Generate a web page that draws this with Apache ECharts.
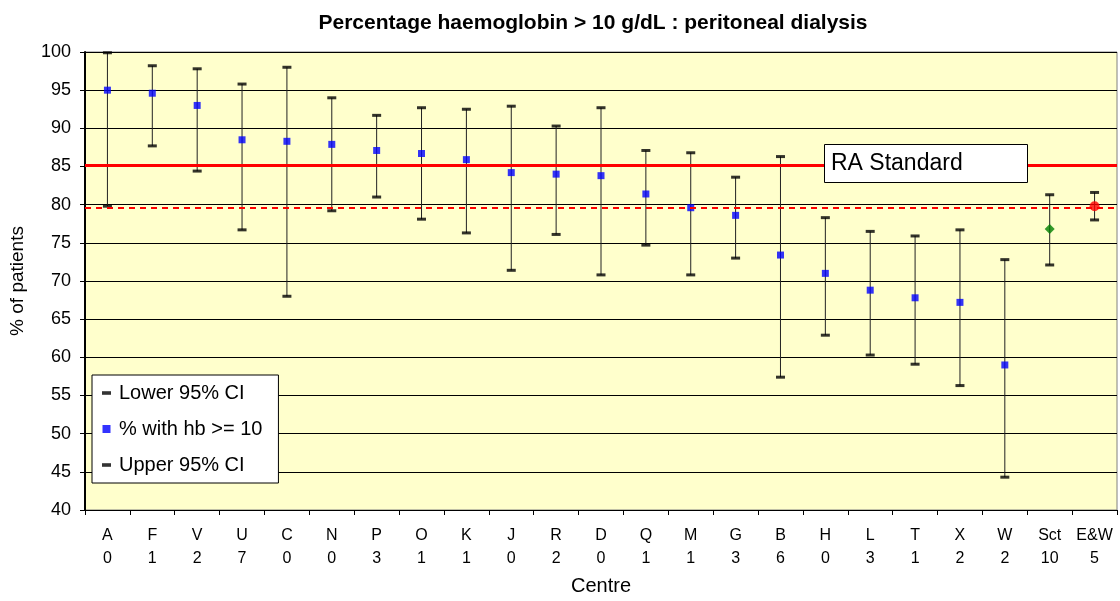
<!DOCTYPE html>
<html>
<head>
<meta charset="utf-8">
<script src="https://cdn.jsdelivr.net/npm/echarts@6/dist/echarts.min.js"></script>
<style>
  html, body { margin: 0; padding: 0; background: #fff; }
  #chart { width: 1120px; height: 601px; }
</style>
</head>
<body>
<div id="chart"></div>
<script>
// 中心名称和人数
var centres = ['A', 'F', 'V', 'U', 'C', 'N', 'P', 'O', 'K', 'J', 'R', 'D', 'Q', 'M', 'G', 'B', 'H', 'L', 'T', 'X', 'W', 'Sct', 'E&W'];
var counts = ['0', '1', '2', '7', '0', '0', '3', '1', '1', '0', '2', '0', '1', '1', '3', '6', '0', '3', '1', '2', '2', '10', '5'];
// % with hb >= 10
var pct = [95.0, 94.6, 93.0, 88.5, 88.3, 87.9, 87.1, 86.7, 85.9, 84.2, 84.0, 83.8, 81.4, 79.6, 78.6, 73.4, 71.0, 68.8, 67.8, 67.2, 59.0, 76.8, 79.8];
var lower = [79.8, 87.7, 84.4, 76.7, 68.0, 79.2, 81.0, 78.1, 76.3, 71.4, 76.1, 70.8, 74.7, 70.8, 73.0, 57.4, 62.9, 60.3, 59.1, 56.3, 44.3, 72.1, 78.0];
var upper = [99.9, 98.2, 97.8, 95.8, 98.0, 94.0, 91.7, 92.7, 92.5, 92.9, 90.3, 92.7, 87.1, 86.8, 83.6, 86.3, 78.3, 76.5, 75.9, 76.7, 72.8, 81.3, 81.6];
// 参考线
var raStandard = 85.2;
var ewLine = 79.6;

var fontFamily = 'Liberation Sans, Arial, sans-serif';

var myChart = echarts.init(document.getElementById('chart'));

var pointData = pct.map(function (v, i) {
    if (centres[i] === 'Sct') {
        return { value: v, symbol: 'diamond', symbolSize: 10, itemStyle: { color: '#008000' } };
    }
    if (centres[i] === 'E&W') {
        return { value: v, symbol: 'circle', symbolSize: 10, itemStyle: { color: '#FF0000' } };
    }
    return v;
});

var dashIcon = 'path://M0,0 L9,0 L9,3.6 L0,3.6 Z';

var option = {
    backgroundColor: '#fff',
    animation: false,
    title: {
        text: 'Percentage haemoglobin > 10 g/dL : peritoneal dialysis',
        left: 588,
        textAlign: 'center',
        top: 8,
        textStyle: { fontFamily: fontFamily, fontSize: 21, fontWeight: 'bold', color: '#000' }
    },
    legend: {
        orient: 'vertical',
        left: 92,
        top: 375,
        backgroundColor: '#fff',
        borderColor: '#000',
        borderWidth: 1,
        padding: [6, 16, 6, 10],
        itemGap: 12,
        itemWidth: 9,
        itemHeight: 8,
        textStyle: { fontFamily: fontFamily, fontSize: 20, color: '#000', lineHeight: 24, padding: [0, 0, 0, 3] },
        data: [
            { name: 'Lower 95% CI', icon: dashIcon },
            { name: '% with hb >= 10', icon: 'path://M0,0 L6,0 L6,6 L0,6 Z' },
            { name: 'Upper 95% CI', icon: dashIcon }
        ]
    },
    grid: {
        left: 83,
        right: 3,
        top: 52,
        bottom: 91,
        show: true,
        backgroundColor: '#FFFFCC',
        borderColor: '#808080',
        borderWidth: 1
    },
    xAxis: {
        type: 'category',
        data: centres.map(function (c, i) { return c + '\n' + counts[i]; }),
        name: 'Centre',
        nameLocation: 'middle',
        nameGap: 66,
        nameTextStyle: { fontFamily: fontFamily, fontSize: 20, color: '#000' },
        axisLine: { lineStyle: { color: '#000', width: 1 } },
        axisTick: { show: true, length: 5, inside: false, lineStyle: { color: '#000' } },
        axisLabel: { interval: 0, margin: 14, color: '#000', fontFamily: fontFamily, fontSize: 16, lineHeight: 23 },
        splitLine: { show: false }
    },
    yAxis: {
        type: 'value',
        min: 40,
        max: 100,
        interval: 5,
        name: '% of patients',
        nameLocation: 'middle',
        nameGap: 58,
        nameTextStyle: { fontFamily: fontFamily, fontSize: 19, color: '#000' },
        axisLine: { show: true, lineStyle: { color: '#000', width: 2 } },
        axisTick: { show: true, length: 5, lineStyle: { color: '#000' } },
        axisLabel: { margin: 14, color: '#000', fontFamily: fontFamily, fontSize: 18 },
        splitLine: { show: true, lineStyle: { color: '#000', width: 1 } }
    },
    series: [
        {
            name: 'CI',
            type: 'custom',
            z: 2,
            data: centres.map(function (c, i) { return [i, lower[i], upper[i]]; }),
            encode: { x: 0, y: [1, 2] },
            renderItem: function (params, api) {
                var p1 = api.coord([api.value(0), api.value(1)]);
                var p2 = api.coord([api.value(0), api.value(2)]);
                return {
                    type: 'line',
                    shape: { x1: p1[0], y1: p1[1], x2: p2[0], y2: p2[1] },
                    style: { stroke: '#222', lineWidth: 1 }
                };
            },
            markLine: {
                silent: true,
                symbol: 'none',
                label: { show: false },
                data: [
                    { yAxis: raStandard, lineStyle: { color: '#FF0000', width: 3, type: 'solid' } },
                    { yAxis: ewLine, lineStyle: { color: '#FF0000', width: 2, type: [6, 5] } }
                ]
            }
        },
        {
            name: 'Lower 95% CI',
            type: 'scatter',
            z: 3,
            symbol: 'rect',
            symbolSize: [9, 3],
            itemStyle: { color: '#000' },
            data: lower
        },
        {
            name: 'Upper 95% CI',
            type: 'scatter',
            z: 3,
            symbol: 'rect',
            symbolSize: [9, 3],
            itemStyle: { color: '#000' },
            data: upper
        },
        {
            name: '% with hb >= 10',
            type: 'scatter',
            z: 4,
            symbol: 'rect',
            symbolSize: 7,
            itemStyle: { color: '#0000FF' },
            data: pointData
        }
    ],
    graphic: [
        {
            type: 'rect',
            left: 824,
            top: 144,
            z: 100,
            shape: { width: 203, height: 38 },
            style: { fill: '#fff', stroke: '#000', lineWidth: 1 }
        },
        {
            type: 'text',
            left: 831,
            top: 152,
            z: 101,
            style: { text: 'RA Standard', fontFamily: fontFamily, fontSize: 23, fill: '#000' }
        }
    ]
};

myChart.setOption(option);
</script>
</body>
</html>
